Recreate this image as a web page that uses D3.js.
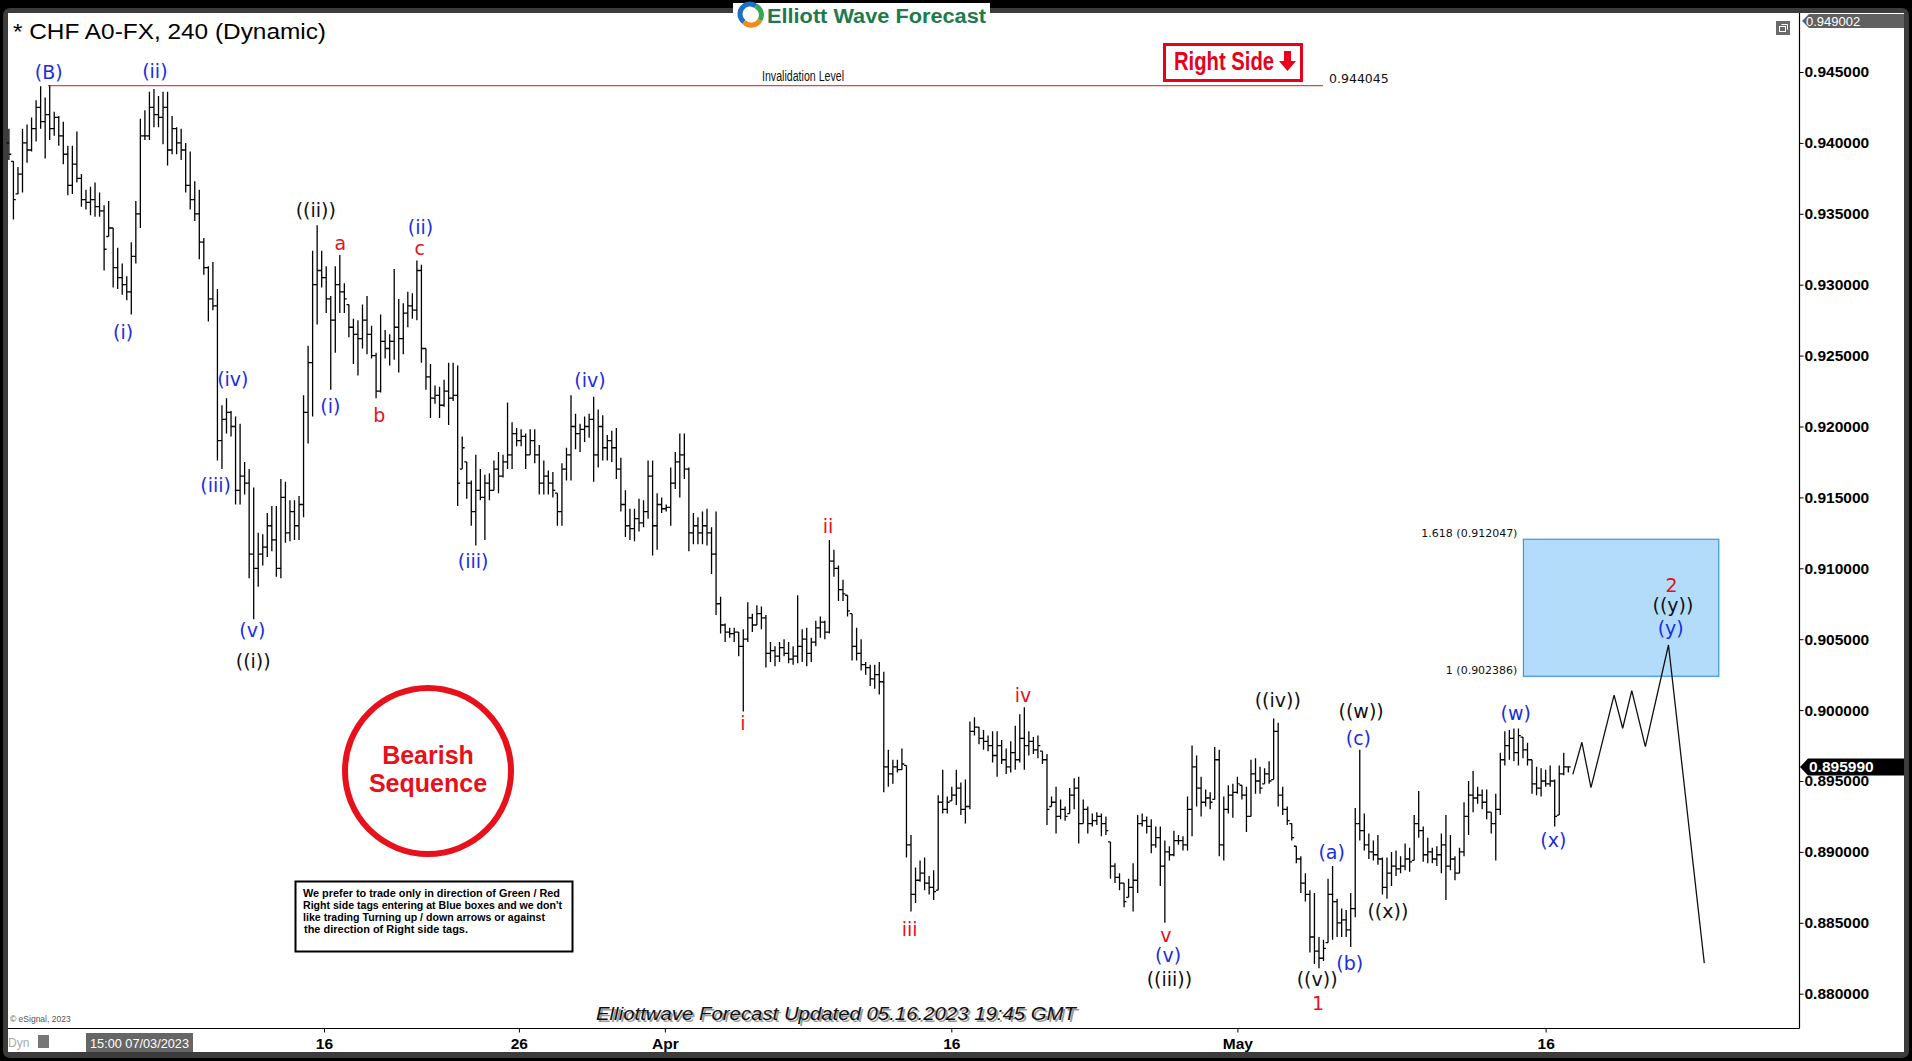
<!DOCTYPE html>
<html><head><meta charset="utf-8">
<script src="https://cdn.jsdelivr.net/npm/d3@7"></script>
<style>body{margin:0;background:#000;}svg{display:block;}</style>
</head><body>
<svg id="chart" width="1912" height="1061"></svg>
<script>
// ---------- DATA ----------
// 4h OHLC bars [open, high, low, close]
const bars = [
[.9400,.9410,.9388,.9392],[.9387,.9387,.9346,.9360],[.9364,.9383,.9364,.9378],[.9378,.9410,.9365,.9400],[.9400,.9413,.9386,.9395],
[.9395,.9418,.9394,.9410],[.9410,.9430,.9401,.9425],[.9425,.9440,.9410,.9415],[.9415,.9432,.9389,.9420],[.9420,.94405,.9402,.9410],
[.9410,.9422,.9405,.9418],[.9418,.9419,.9398,.9405],[.9405,.9415,.9385,.9392],[.9392,.9398,.9363,.9370],[.9370,.9398,.9364,.9385],
[.9385,.9408,.9372,.9375],[.9375,.9378,.9355,.9360],[.9360,.9367,.9353,.9358],[.9358,.9369,.9349,.9360],[.9360,.9372,.9348,.9355],
[.9355,.9365,.9348,.9352],[.9352,.9356,.9310,.9325],[.9334,.9359,.9334,.9340],[.9340,.9340,.9298,.9312],[.9312,.9326,.9297,.9305],
[.9305,.9315,.9293,.9300],[.9300,.9306,.9289,.9295],[.9295,.9330,.9279,.9320],[.9320,.9359,.9315,.9350],[.9350,.9417,.9340,.9405],
[.9405,.9423,.9402,.9405],[.9405,.9436,.9402,.9425],[.9425,.9438,.9411,.9420],[.9420,.9433,.9411,.9418],[.9418,.9436,.9399,.9425],
[.9425,.9436,.9384,.9395],[.9395,.9419,.9392,.9410],[.9410,.9411,.9392,.9400],[.9400,.9410,.9388,.9395],[.9395,.9400,.9365,.9370],
[.9370,.9394,.9353,.9360],[.9360,.9373,.9345,.9350],[.9350,.9367,.9318,.9330],[.9330,.9333,.9307,.9312],[.9312,.9313,.9274,.9290],
[.9290,.9316,.9282,.9285],[.9285,.9297,.9176,.9190],[.9190,.9215,.9170,.9205],[.9205,.9220,.9195,.9210],[.9210,.9211,.9193,.9200],
[.9200,.9207,.9145,.9155],[.9155,.9202,.9145,.9165],[.9165,.9175,.9152,.9160],[.9160,.9170,.9093,.9110],[.9110,.9157,.9064,.9100],
[.9100,.9125,.9087,.9110],[.9110,.9124,.9102,.9115],[.9115,.9139,.9108,.9130],[.9130,.9144,.9112,.9120],[.9120,.9144,.9094,.9100],
[.9100,.9163,.9093,.9150],[.9150,.9161,.9118,.9125],[.9125,.9148,.9119,.9140],[.9140,.9148,.9120,.9130],[.9130,.9151,.9120,.9145],
[.9145,.9222,.9136,.9210],[.9210,.9257,.9188,.9245],[.9245,.9324,.9207,.9300],[.9300,.9342,.9272,.9310],[.9310,.9324,.9298,.9305],
[.9305,.9313,.9280,.9290],[.9290,.9292,.9226,.9275],[.9275,.9313,.9252,.9300],[.9300,.9321,.9280,.9295],[.9295,.9301,.9280,.9290],
[.9286,.9286,.9263,.9270],[.9270,.9276,.9244,.9265],[.9265,.9275,.9236,.9262],[.9262,.9286,.9255,.9275],[.9275,.9292,.9251,.9265],
[.9265,.9271,.9248,.9250],[.9250,.9252,.9220,.9225],[.9225,.9279,.9224,.9260],[.9260,.9268,.9248,.9255],[.9255,.9265,.9243,.9260],
[.9260,.9311,.9247,.9270],[.9270,.9290,.9238,.9262],[.9262,.9287,.9251,.9280],[.9280,.9295,.9270,.9285],[.9285,.9294,.9276,.9282],
[.9282,.9317,.9275,.9310],[.9310,.9314,.9245,.9255],[.9255,.9255,.9226,.9235],[.9235,.9244,.9206,.9220],[.9220,.9229,.9216,.9222],
[.9222,.9228,.9206,.9215],[.9215,.9233,.9214,.9225],[.9225,.9245,.9201,.9220],[.9220,.9245,.9218,.9222],[.9222,.9243,.9144,.9160],
[.9170,.9193,.9170,.9185],[.9175,.9175,.9149,.9160],[.9160,.9162,.9130,.9140],[.9140,.9180,.9116,.9155],[.9155,.9170,.9148,.9150],
[.9150,.9166,.9120,.9160],[.9160,.9167,.9148,.9155],[.9155,.9176,.9155,.9170],[.9170,.9182,.9153,.9165],[.9165,.9180,.9164,.9175],
[.9175,.9217,.9170,.9180],[.9180,.9203,.9170,.9195],[.9195,.9199,.9186,.9190],[.9190,.9198,.9186,.9193],[.9193,.9195,.9170,.9180],
[.9180,.9198,.9180,.9190],[.9190,.9198,.9174,.9180],[.9180,.9187,.9152,.9160],[.9160,.9176,.9152,.9165],[.9165,.9169,.9152,.9160],
[.9160,.9168,.9150,.9155],[.9153,.9153,.9130,.9140],[.9140,.9174,.9130,.9170],[.9170,.9185,.9162,.9180],[.9180,.9222,.9162,.9200],
[.9200,.9209,.9184,.9195],[.9195,.9202,.9182,.9198],[.9198,.9207,.9189,.9200],[.9200,.9209,.9192,.9205],[.9205,.9221,.9161,.9180],
[.9180,.9212,.9171,.9200],[.9200,.9208,.9176,.9185],[.9185,.9194,.9176,.9190],[.9190,.9197,.9175,.9185],[.9185,.9199,.9163,.9170],
[.9170,.9178,.9140,.9145],[.9145,.9155,.9122,.9130],[.9130,.9142,.9120,.9128],[.9128,.9142,.9119,.9135],[.9135,.9149,.9126,.9132],
[.9132,.9148,.9129,.9140],[.9140,.9176,.9135,.9165],[.9165,.9176,.9109,.9130],[.9130,.9153,.9113,.9145],[.9145,.9150,.9139,.9142],
[.9142,.9145,.9140,.9143],[.9143,.9171,.9130,.9160],[.9160,.9182,.9156,.9175],[.9175,.9195,.9150,.9180],[.9180,.9195,.9163,.9170],
[.9170,.9171,.9112,.9125],[.9125,.9139,.9117,.9130],[.9130,.9136,.9117,.9125],[.9125,.9140,.9117,.9130],[.9130,.9142,.9116,.9125],
[.9125,.9129,.9096,.9110],[.9110,.9140,.9067,.9075],[.9075,.9080,.9054,.9060],[.9060,.9061,.9048,.9055],[.9055,.9058,.9051,.9054],
[.9054,.9058,.9048,.9055],[.9055,.9055,.9038,.9045],[.9045,.9057,.8999,.9050],[.9050,.9076,.9048,.9065],[.9065,.9068,.9055,.9060],
[.9060,.9074,.9060,.9068],[.9068,.9073,.9057,.9065],[.9065,.9067,.9030,.9040],[.9040,.9048,.9034,.9042],[.9042,.9045,.9031,.9038],
[.9038,.9048,.9034,.9044],[.9044,.9050,.9038,.9040],[.9040,.9048,.9033,.9036],[.9036,.9045,.9032,.9038],[.9038,.9081,.9033,.9045],
[.9045,.9057,.9034,.9050],[.9050,.9058,.9031,.9040],[.9040,.9051,.9034,.9048],[.9048,.9063,.9045,.9058],[.9058,.9066,.9051,.9062],
[.9062,.9063,.9050,.9055],[.9055,.9120,.9054,.9105],[.9105,.9113,.9094,.9100],[.9100,.9102,.9077,.9085],[.9085,.9092,.9077,.9082],
[.9081,.9081,.9066,.9070],[.9068,.9068,.9035,.9045],[.9045,.9058,.9035,.9040],[.9040,.9050,.9028,.9032],[.9032,.9034,.9025,.9030],
[.9030,.9032,.9017,.9022],[.9022,.9032,.9015,.9025],[.9025,.9034,.9011,.9020],[.9020,.9027,.8942,.8960],[.8960,.8972,.8946,.8955],
[.8955,.8965,.8948,.8960],[.8960,.8965,.8956,.8958],[.8958,.8973,.8958,.8962],[.8961,.8961,.8896,.8905],[.8905,.8912,.8858,.8870],
[.8870,.8889,.8864,.8880],[.8880,.8894,.8879,.8885],[.8885,.8896,.8873,.8878],[.8878,.8883,.8870,.8875],[.8875,.8887,.8866,.8872],
[.8873,.8940,.8873,.8935],[.8935,.8958,.8927,.8930],[.8930,.8939,.8927,.8935],[.8936,.8946,.8936,.8940],[.8940,.8958,.8933,.8945],
[.8945,.8949,.8926,.8930],[.8930,.8951,.8920,.8932],[.8932,.8992,.8930,.8985],[.8985,.8995,.8982,.8988],[.8988,.8988,.8976,.8980],
[.8980,.8986,.8972,.8978],[.8978,.8982,.8971,.8975],[.8975,.8985,.8963,.8968],[.8968,.8985,.8953,.8975],[.8975,.8979,.8962,.8965],
[.8965,.8973,.8955,.8960],[.8960,.8978,.8956,.8970],[.8970,.8989,.8958,.8965],[.8965,.8997,.8963,.8980],[.8980,.9002,.8958,.8975],
[.8975,.8985,.8968,.8978],[.8978,.8981,.8969,.8972],[.8972,.8982,.8966,.8975],[.8971,.8971,.8962,.8965],[.8965,.8969,.8919,.8930],
[.8932,.8939,.8932,.8935],[.8935,.8946,.8913,.8925],[.8925,.8937,.8923,.8930],[.8930,.8932,.8922,.8925],[.8927,.8945,.8927,.8940],
[.8940,.8952,.8930,.8945],[.8945,.8953,.8906,.8920],[.8920,.8937,.8920,.8930],[.8930,.8932,.8913,.8920],[.8920,.8927,.8918,.8922],
[.8922,.8928,.8919,.8925],[.8925,.8927,.8911,.8920],[.8920,.8925,.8912,.8915],[.8907,.8907,.8881,.8890],[.8890,.8892,.8878,.8882],
[.8882,.8885,.8873,.8878],[.8878,.8878,.8861,.8865],[.8868,.8881,.8868,.8875],[.8875,.8892,.8858,.8880],[.8880,.8926,.8871,.8920],
[.8920,.8927,.8918,.8922],[.8922,.8925,.8913,.8918],[.8918,.8923,.8899,.8905],[.8905,.8918,.8903,.8910],[.8910,.8918,.8876,.8890],
[.8890,.8908,.8850,.8900],[.8900,.8904,.8894,.8898],[.8898,.8915,.8897,.8908],[.8908,.8912,.8905,.8908],[.8908,.8911,.8901,.8905],
[.8905,.8939,.8901,.8930],[.8930,.8975,.8911,.8960],[.8960,.8968,.8932,.8945],[.8945,.8953,.8925,.8935],[.8935,.8944,.8932,.8938],
[.8938,.8942,.8930,.8935],[.8937,.8974,.8937,.8965],[.8965,.8972,.8897,.8905],[.8905,.8939,.8894,.8930],[.8930,.8947,.8927,.8940],
[.8940,.8948,.8924,.8942],[.8942,.8953,.8941,.8948],[.8947,.8947,.8937,.8940],[.8940,.8946,.8914,.8925],[.8925,.8965,.8925,.8955],
[.8955,.8966,.8941,.8950],[.8950,.8960,.8941,.8945],[.8948,.8959,.8948,.8955],[.8955,.8964,.8948,.8950],[.8951,.8994,.8951,.8985],
[.8985,.8991,.8932,.8940],[.8940,.8946,.8926,.8930],[.8930,.8932,.8919,.8922],[.8920,.8920,.8908,.8910],[.8904,.8904,.8892,.8895],
[.8895,.8897,.8871,.8878],[.8878,.8885,.8865,.8870],[.8870,.8873,.8829,.8840],[.8840,.8871,.8821,.8830],[.8830,.8840,.8818,.8825],
[.8825,.8838,.8823,.8832],[.8836,.8881,.8836,.8870],[.8870,.8890,.8838,.8865],[.8865,.8867,.8840,.8850],[.8850,.8860,.8840,.8852],
[.8852,.8859,.8840,.8845],[.8845,.8871,.8833,.8860],[.8860,.8931,.8854,.8920],[.8920,.8972,.8908,.8915],[.8915,.8927,.8901,.8905],
[.8905,.8913,.8895,.8900],[.8900,.8908,.8894,.8898],[.8898,.8912,.8891,.8895],[.8895,.8896,.8870,.8875],[.8875,.8896,.8867,.8885],
[.8885,.8900,.8876,.8890],[.8890,.8901,.8883,.8888],[.8888,.8897,.8885,.8890],[.8890,.8906,.8887,.8895],[.8895,.8903,.8886,.8893],
[.8894,.8926,.8894,.8920],[.8920,.8943,.8910,.8915],[.8915,.8918,.8893,.8898],[.8898,.8910,.8892,.8900],[.8900,.8903,.8892,.8895],
[.8895,.8904,.8890,.8898],[.8898,.8913,.8885,.8905],[.8905,.8926,.8866,.8890],[.8890,.8912,.8887,.8895],[.8895,.8897,.8880,.8885],
[.8885,.8903,.8885,.8900],[.8900,.8935,.8897,.8925],[.8925,.8950,.8912,.8940],[.8940,.8957,.8928,.8938],[.8938,.8946,.8934,.8940],
[.8940,.8944,.8930,.8935],[.8935,.8944,.8923,.8928],[.8928,.8928,.8913,.8920],[.8920,.8941,.8894,.8930],[.8930,.8970,.8926,.8965],
[.8965,.8985,.8961,.8975],[.8975,.8986,.8965,.8980],[.8980,.8987,.8964,.8970],[.8970,.8987,.8961,.8982],[.8981,.8981,.8966,.8972],
[.8972,.8977,.8961,.8965],[.8965,.8965,.8941,.8948],[.8948,.8960,.8940,.8945],[.8945,.8959,.8939,.8950],[.8950,.8958,.8946,.8948],
[.8948,.8961,.8946,.8950],[.8950,.8951,.8918,.8925],[.8926,.8961,.8926,.8955],[.8955,.8970,.8954,.8960],[.8960,.8960,.8956,.89599]
];

const priceTicks = [0.880,0.885,0.890,0.895,0.900,0.905,0.910,0.915,0.920,0.925,0.930,0.935,0.940,0.945];
const dateLabels = ["16","26","Apr","16","May","16"];
const dateTickBars = [69.5,112.5,144.7,207.9,271.0,339.0];

const lastPrice = 0.895990;
const topPrice = 0.949002;
const invalidationLevel = 0.944045;
const invalidationSpan = [8.6, 289.9];

const fibLevels = [0.902386, 0.912047];
const fibLabels = ["1 (0.902386)", "1.618 (0.912047)"];
const fibSpan = [334.1, 377.2];

const forecastBars   = [345.0, 347.0, 349.0, 354.1, 356.0, 358.0, 361.0, 366.1, 374.0];
const forecastPrices = [0.89547,0.89773,0.89453,0.90106,0.89872,0.90137,0.89742,0.90459,0.88216];

// wave labels: [text, bar index, price, colour key]
const waveLabels = [
["(B)",8.8,.94500,"b"],["(ii)",32.2,.94509,"b"],["(i)",25.2,.92669,"b"],["(iv)",49.4,.92333,"b"],
["(iii)",45.6,.91585,"b"],["(v)",53.7,.90562,"b"],["((i))",53.9,.90347,"k"],["((ii))",67.7,.93529,"k"],
["a",73.1,.93297,"r"],["(ii)",90.8,.93408,"b"],["c",90.6,.93262,"r"],["(i)",70.9,.92144,"b"],
["b",81.7,.92084,"r"],["(iii)",102.4,.91052,"b"],["(iv)",128.2,.92325,"b"],["ii",180.7,.91301,"r"],
["i",161.9,.89908,"r"],["iii",198.7,.88455,"r"],["iv",223.7,.90106,"r"],["v",255.2,.88412,"r"],
["(v)",255.7,.88275,"b"],["((iii))",256.0,.88102,"k"],["((iv))",279.9,.90072,"k"],["((w))",298.3,.89995,"k"],
["(c)",297.7,.89805,"b"],["(a)",291.8,.88997,"b"],["((x))",304.2,.88585,"k"],["(b)",295.8,.88215,"b"],
["((v))",288.6,.88102,"k"],["1",288.8,.87931,"r"],["(w)",332.4,.89977,"b"],["(x)",340.7,.89083,"b"],
["2",366.8,.90880,"r"],["((y))",367.1,.90743,"k"],["(y)",366.6,.90579,"b"]
];
const labelColors = {b:"#1a2ee0", r:"#e8101a", k:"#111111"};

const legendLines = ["We prefer to trade only in direction of Green / Red",
  "Right side tags entering at Blue boxes and we don't",
  "like trading Turning up / down arrows or against",
  "the direction of Right side tags."];

// ---------- DRAW ----------
const svg = d3.select('#chart');
const x = d3.scaleLinear().domain([0, 344]).range([8.9, 1568.3]);
const y = d3.scaleLinear().domain([0.880, 0.945]).range([993.7, 72]);

svg.append('rect').attr('width',1912).attr('height',1061).attr('fill','#000');
svg.append('rect').attr('x',3).attr('y',8).attr('width',1906).attr('height',1050).attr('rx',7).attr('fill','#3c3c3c');
svg.append('rect').attr('x',8).attr('y',13).attr('width',1896).attr('height',1039).attr('fill','#fff');

// logo
const logo = svg.append('g');
logo.append('rect').attr('x',733).attr('y',3).attr('width',257).attr('height',24).attr('fill','#fff');
logo.append('path').attr('d','M756,6 A10,10 0 0 0 744,22').attr('stroke','#1f6fc4').attr('stroke-width',5).attr('fill','none');
logo.append('path').attr('d','M744,22 A10,10 0 0 0 760,20').attr('stroke','#f08a1c').attr('stroke-width',5).attr('fill','none');
logo.append('path').attr('d','M760,20 A10,10 0 0 0 756,6').attr('stroke','#2fa84f').attr('stroke-width',5).attr('fill','none');
logo.append('text').attr('x',767).attr('y',23).text('Elliott Wave Forecast')
  .attr('font-family','Liberation Sans, Arial, sans-serif').attr('font-weight','bold').attr('font-size',20)
  .attr('fill','#1d7a4e').attr('textLength',219).attr('lengthAdjust','spacingAndGlyphs');

// title
svg.append('text').attr('x',13).attr('y',38.5).text('* CHF A0-FX, 240 (Dynamic)')
  .attr('font-family','Liberation Sans, Arial, sans-serif').attr('font-size',22).attr('fill','#000')
  .attr('textLength',313).attr('lengthAdjust','spacingAndGlyphs');

// restore icon
svg.append('rect').attr('x',1776).attr('y',21).attr('width',14).attr('height',14).attr('fill','#6a6a6a');
svg.append('rect').attr('x',1779.5).attr('y',26.5).attr('width',6).attr('height',5).attr('fill','none').attr('stroke','#fff').attr('stroke-width',1);
svg.append('path').attr('d','M1781.5,24.5H1787.5V29.5').attr('fill','none').attr('stroke','#fff').attr('stroke-width',1);

// fib box
svg.append('rect').attr('x',x(fibSpan[0])).attr('y',y(fibLevels[1]))
  .attr('width',x(fibSpan[1])-x(fibSpan[0])).attr('height',y(fibLevels[0])-y(fibLevels[1]))
  .attr('fill','#b3dcfb').attr('stroke','#3a98dc').attr('stroke-width',1.2);
svg.selectAll('text.fib').data(fibLevels).join('text').attr('class','fib')
  .attr('x',x(fibSpan[0])-6).attr('y',d=>y(d)-2).attr('text-anchor','end')
  .attr('font-family','DejaVu Sans, Verdana, sans-serif').attr('font-size',11).attr('fill','#111')
  .text((d,i)=>fibLabels[i]);

// invalidation line
svg.append('line').attr('x1',x(invalidationSpan[0])).attr('x2',x(invalidationSpan[1]))
  .attr('y1',y(invalidationLevel)).attr('y2',y(invalidationLevel)).attr('stroke','#e04848').attr('stroke-width',1.2);
svg.append('text').attr('x',762).attr('y',80.5).text('Invalidation Level')
  .attr('font-family','Liberation Sans, Arial, sans-serif').attr('font-size',14).attr('fill','#111')
  .attr('textLength',82).attr('lengthAdjust','spacingAndGlyphs');
svg.append('text').attr('x',x(invalidationSpan[1])+6).attr('y',y(invalidationLevel)-3).text(invalidationLevel.toFixed(6))
  .attr('font-family','DejaVu Sans, Verdana, sans-serif').attr('font-size',12.5).attr('fill','#111');

// Right side tag
svg.append('rect').attr('x',1164.5).attr('y',44.5).attr('width',137).attr('height',36).attr('fill','#fff')
  .attr('stroke','#e8001c').attr('stroke-width',3);
svg.append('text').attr('x',1174).attr('y',70).text('Right Side')
  .attr('font-family','Liberation Sans, Arial, sans-serif').attr('font-weight','bold').attr('font-size',26)
  .attr('fill','#e8001c').attr('textLength',100).attr('lengthAdjust','spacingAndGlyphs');
svg.append('path').attr('d','M1284,51H1291V61H1296L1287.5,71L1279,61H1284Z').attr('fill','#e8001c');

// OHLC bars
svg.append('g').attr('stroke','#000').attr('stroke-width',1.3).attr('fill','none')
  .selectAll('path').data(bars).join('path')
  .attr('d',(d,i)=>{const cx=x(i);return `M${cx},${y(d[1])}V${y(d[2])}M${cx-2.4},${y(d[0])}H${cx}M${cx},${y(d[3])}H${cx+2.4}`;});

// forecast path
const fc = forecastBars.map((b,i)=>[b,forecastPrices[i]]);
svg.append('path').datum(fc).attr('fill','none').attr('stroke','#111').attr('stroke-width',1.3)
  .attr('d',d3.line().x(d=>x(d[0])).y(d=>y(d[1])));

// wave labels
svg.append('g').selectAll('text').data(waveLabels).join('text')
  .attr('x',d=>x(d[1])).attr('y',d=>y(d[2])).attr('text-anchor','middle').attr('dominant-baseline','central')
  .attr('font-family','DejaVu Sans, Verdana, sans-serif').attr('font-size',19)
  .attr('fill',d=>labelColors[d[3]]).text(d=>d[0]);

// Bearish sequence
svg.append('circle').attr('cx',428).attr('cy',771).attr('r',83).attr('fill','#fff').attr('stroke','#e8101a').attr('stroke-width',6);
svg.append('text').attr('x',428).attr('y',764).attr('text-anchor','middle').text('Bearish')
  .attr('font-family','Liberation Sans, Arial, sans-serif').attr('font-weight','bold').attr('font-size',25).attr('fill','#e8101a');
svg.append('text').attr('x',428).attr('y',792).attr('text-anchor','middle').text('Sequence')
  .attr('font-family','Liberation Sans, Arial, sans-serif').attr('font-weight','bold').attr('font-size',25).attr('fill','#e8101a');

// legend box
svg.append('rect').attr('x',295.5).attr('y',881.5).attr('width',277).attr('height',70).attr('fill','#fff').attr('stroke','#000').attr('stroke-width',2);
const legW = [257,259,242,164];
svg.append('g').selectAll('text').data(legendLines).join('text')
  .attr('x',(d,i)=>i===3?304:303).attr('y',(d,i)=>897+i*12).text(d=>d)
  .attr('font-family','Liberation Sans, Arial, sans-serif').attr('font-weight','bold').attr('font-size',10.5).attr('fill','#000')
  .attr('textLength',(d,i)=>legW[i]).attr('lengthAdjust','spacingAndGlyphs');

// frame lines
svg.append('line').attr('x1',1799.5).attr('x2',1799.5).attr('y1',13).attr('y2',1028.5).attr('stroke','#000').attr('stroke-width',1.2);
svg.append('line').attr('x1',8).attr('x2',1799.5).attr('y1',1028.5).attr('y2',1028.5).attr('stroke','#000').attr('stroke-width',1.2);

// price axis
const ya = svg.append('g').attr('transform','translate(1799.5,0)')
  .call(d3.axisRight(y).tickValues(priceTicks).tickFormat(d3.format('.6f')).tickSize(4).tickPadding(1));
ya.select('.domain').remove();
ya.selectAll('text').attr('font-family','Liberation Sans, Arial, sans-serif').attr('font-weight','bold').attr('font-size',15.5).attr('fill','#000');
ya.selectAll('line').attr('stroke','#000');

// time axis
const xa = svg.append('g').attr('transform','translate(0,1028.5)')
  .call(d3.axisBottom(x).tickValues(dateTickBars).tickFormat((d,i)=>dateLabels[i]).tickSize(4).tickPadding(5));
xa.select('.domain').remove();
xa.selectAll('text').attr('font-family','Liberation Sans, Arial, sans-serif').attr('font-weight','bold').attr('font-size',15.5).attr('fill','#000');
xa.selectAll('line').attr('stroke','#000');

// top price tag
svg.append('path').attr('d','M1802,21L1809,14H1904V28H1809Z').attr('fill','#606060');
svg.append('text').attr('x',1806).attr('y',26).text(topPrice.toFixed(6))
  .attr('font-family','Liberation Sans, Arial, sans-serif').attr('font-size',13).attr('fill','#fff');

// last price tag
const ly = y(lastPrice);
svg.append('path').attr('d',`M1800,${ly}L1808,${ly-8.5}H1904V${ly+8.5}H1808Z`).attr('fill','#000');
svg.append('text').attr('x',1809).attr('y',ly+5.5).text(lastPrice.toFixed(6))
  .attr('font-family','Liberation Sans, Arial, sans-serif').attr('font-weight','bold').attr('font-size',15.5).attr('fill','#fff');

// footer
svg.append('text').attr('x',598).attr('y',1021.5).text('Elliottwave Forecast Updated 05.16.2023 19:45 GMT')
  .attr('font-family','Liberation Sans, Arial, sans-serif').attr('font-style','italic').attr('font-size',19).attr('fill','#9a9a9a')
  .attr('textLength',480).attr('lengthAdjust','spacingAndGlyphs');
svg.append('text').attr('x',596).attr('y',1020).text('Elliottwave Forecast Updated 05.16.2023 19:45 GMT')
  .attr('font-family','Liberation Sans, Arial, sans-serif').attr('font-style','italic').attr('font-size',19).attr('fill','#111')
  .attr('textLength',480).attr('lengthAdjust','spacingAndGlyphs');
svg.append('text').attr('x',10).attr('y',1022).text('© eSignal, 2023')
  .attr('font-family','Liberation Sans, Arial, sans-serif').attr('font-size',8.5).attr('fill','#555');
svg.append('text').attr('x',8).attr('y',1047).text('Dyn')
  .attr('font-family','Liberation Sans, Arial, sans-serif').attr('font-size',12).attr('fill','#aaa');
svg.append('rect').attr('x',38).attr('y',1035).attr('width',11).attr('height',13).attr('fill','#777');
svg.append('rect').attr('x',86).attr('y',1033).attr('width',107).attr('height',19).attr('fill','#666');
svg.append('text').attr('x',90).attr('y',1047.5).text('15:00 07/03/2023')
  .attr('font-family','Liberation Sans, Arial, sans-serif').attr('font-size',13).attr('fill','#fff')
  .attr('textLength',99).attr('lengthAdjust','spacingAndGlyphs');
</script>
</body></html>
